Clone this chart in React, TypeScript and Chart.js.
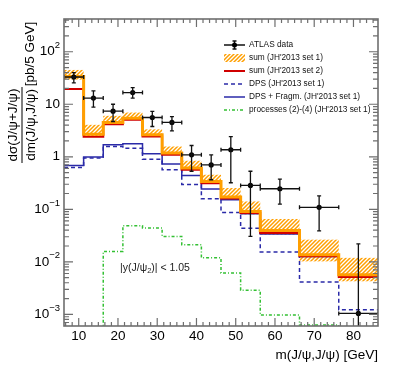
import React, { useEffect, useRef } from "react";
import { Chart, registerables } from "chart.js";

Chart.register(...registerables);

// ---------- data ----------
const binEdges = [6.25, 11.25, 16.25, 21.25, 26.25, 31.25, 36.25, 41.25, 46.25, 51.25, 56.25, 66.25, 76.25, 86.25];

const sumSet1 = [33.7, 2.68, 4.49, 5.44, 2.62, 1.18, 0.61, 0.339, 0.171, 0.091, 0.0397, 0.0137, 0.0057];
const sumSet1Up = [45, 4.06, 6.02, 6.95, 3.33, 1.57, 0.84, 0.455, 0.254, 0.141, 0.0654, 0.0264, 0.0119];
const sumSet1Down = [29.5, 2.45, 4.1, 5.0, 2.4, 1.08, 0.56, 0.31, 0.157, 0.08, 0.0329, 0.0102, 0.00426];
const sumSet2 = [19.6, 2.4, 4.15, 5.05, 2.42, 1.09, 0.565, 0.312, 0.16, 0.085, 0.0354, 0.0127, 0.00516];
const dps = [0.626, 0.945, 1.57, 1.46, 0.9, 0.566, 0.297, 0.159, 0.0873, 0.0437, 0.0154, 0.00415, 0.00123];
const dpsFragm = [0.684, 0.987, 1.69, 1.77, 1.14, 0.727, 0.44, 0.243, 0.152, 0.0825, 0.0339, 0.0126, 0.00523];
// zero bins are given a value below the axis range
const processes24 = [1e-5, 1e-5, 0.0158, 0.0488, 0.0441, 0.0305, 0.0212, 0.0119, 0.00615, 0.00287, 0.00097, 0.00063, 1e-5];

const dataX = [8.75, 13.75, 18.75, 23.75, 28.75, 33.75, 38.75, 43.75, 48.75, 53.75, 61.25, 71.25, 81.25];
const dataY = [33, 13.1, 7.4, 16.7, 5.6, 4.5, 1.09, 0.7, 1.36, 0.285, 0.246, 0.109, 0.00104];
const dataHigh = [40, 18, 10, 20.8, 7.3, 5.8, 1.64, 1.09, 2.43, 0.53, 0.377, 0.18, 0.0219];
const dataLow = [25.5, 8.8, 4.7, 13.1, 3.77, 3.1, 0.53, 0.365, 0.32, 0.0305, 0.126, 0.039, 1e-5];

const xMajorTicks = [10, 20, 30, 40, 50, 60, 70, 80];
const yMajorExps = [-3, -2, -1, 0, 1, 2];

const legendLabels = [
  "ATLAS data",
  "sum (JH'2013 set 1)",
  "sum (JH'2013 set 2)",
  "DPS (JH'2013 set 1)",
  "DPS + Fragm. (JH'2013 set 1)",
  "processes (2)-(4) (JH'2013 set 1)",
];

const X_MIN = 6.25;
const X_MAX = 86.25;
const Y_MIN = 6.1e-4;
const Y_MAX = 420;

// ---------- styles ----------
const FONT = "'Liberation Sans', Arial, Helvetica, sans-serif";
const ORANGE = "#ff9f00";
const RED = "#d00000";
const BLUE = "#2a2aa8";
const GREEN = "#33c033";
const AXIS = "#6e6e6e";

function histPoints(vals: number[]) {
  const pts = vals.map((v, i) => ({ x: binEdges[i], y: v }));
  pts.push({ x: binEdges[binEdges.length - 1], y: vals[vals.length - 1] });
  return pts;
}

function makeHatch(ctx: CanvasRenderingContext2D) {
  const c = document.createElement("canvas");
  c.width = 4;
  c.height = 4;
  const g = c.getContext("2d")!;
  g.strokeStyle = ORANGE;
  g.lineWidth = 1.5;
  g.beginPath();
  g.moveTo(-1, 5);
  g.lineTo(5, -1);
  g.moveTo(-1, 1);
  g.lineTo(1, -1);
  g.moveTo(3, 5);
  g.lineTo(5, 3);
  g.stroke();
  return ctx.createPattern(c, "repeat")!;
}

export default function App() {
  const ref = useRef<HTMLCanvasElement>(null);

  useEffect(() => {
    const canvas = ref.current!;
    const hatch = makeHatch(canvas.getContext("2d")!);

    const custom = {
      id: "custom",
      beforeDatasetsDraw(chart: any) {
        const { ctx, chartArea: a, scales } = chart;
        const x = scales.x, y = scales.y;
        ctx.save();
        ctx.beginPath();
        ctx.rect(a.left, a.top, a.right - a.left, a.bottom - a.top);
        ctx.clip();
        ctx.fillStyle = hatch;
        for (let i = 0; i < sumSet1.length; i++) {
          const x0 = x.getPixelForValue(binEdges[i]);
          const x1 = x.getPixelForValue(binEdges[i + 1]);
          const yt = y.getPixelForValue(sumSet1Up[i]);
          const yb = y.getPixelForValue(sumSet1Down[i]);
          ctx.fillRect(x0, yt, x1 - x0, yb - yt);
        }
        ctx.restore();
      },
      afterDatasetsDraw(chart: any) {
        const { ctx, chartArea: a, scales } = chart;
        const x = scales.x, y = scales.y;
        ctx.save();
        ctx.beginPath();
        ctx.rect(a.left, a.top, a.right - a.left, a.bottom - a.top);
        ctx.clip();
        ctx.strokeStyle = "#111";
        ctx.lineWidth = 1.3;
        const cap = 2;
        for (let i = 0; i < dataX.length; i++) {
          const px = x.getPixelForValue(dataX[i]);
          const py = y.getPixelForValue(dataY[i]);
          const xl = x.getPixelForValue(binEdges[i]);
          const xr = x.getPixelForValue(binEdges[i + 1]);
          const yh = y.getPixelForValue(dataHigh[i]);
          const yl = y.getPixelForValue(dataLow[i]);
          ctx.beginPath();
          ctx.moveTo(xl, py);
          ctx.lineTo(xr, py);
          ctx.moveTo(xl, py - cap);
          ctx.lineTo(xl, py + cap);
          ctx.moveTo(xr, py - cap);
          ctx.lineTo(xr, py + cap);
          ctx.moveTo(px, yh);
          ctx.lineTo(px, yl);
          ctx.moveTo(px - cap, yh);
          ctx.lineTo(px + cap, yh);
          ctx.moveTo(px - cap, yl);
          ctx.lineTo(px + cap, yl);
          ctx.stroke();
        }
        ctx.restore();
      },
      afterDraw(chart: any) {
        const { ctx, chartArea: a, scales } = chart;
        const x = scales.x, y = scales.y;
        ctx.save();
        // frame
        ctx.strokeStyle = AXIS;
        ctx.lineWidth = 1.6;
        ctx.strokeRect(a.left, a.top, a.right - a.left, a.bottom - a.top);
        // x ticks
        ctx.lineWidth = 1.2;
        ctx.beginPath();
        for (let k = -3; k <= 50; k++) {
          const v = 10 + (k * 10) / 6;
          if (v <= X_MIN || v >= X_MAX) continue;
          const px = x.getPixelForValue(v);
          const len = k % 6 === 0 ? 8 : 4;
          ctx.moveTo(px, a.bottom);
          ctx.lineTo(px, a.bottom - len);
          ctx.moveTo(px, a.top);
          ctx.lineTo(px, a.top + len);
        }
        // y ticks
        for (let e = -4; e <= 2; e++) {
          for (let m = 1; m <= 9; m++) {
            const v = m * Math.pow(10, e);
            if (v <= Y_MIN || v >= Y_MAX) continue;
            const py = y.getPixelForValue(v);
            const len = m === 1 ? 9 : 5;
            ctx.moveTo(a.left, py);
            ctx.lineTo(a.left + len, py);
            ctx.moveTo(a.right, py);
            ctx.lineTo(a.right - len, py);
          }
        }
        ctx.stroke();

        // x tick labels
        ctx.fillStyle = "#000";
        ctx.font = `13.5px ${FONT}`;
        ctx.textAlign = "center";
        ctx.textBaseline = "middle";
        for (const v of xMajorTicks) {
          ctx.fillText(String(v), x.getPixelForValue(v), 336);
        }
        // y tick labels
        const rightX = 60;
        for (const e of yMajorExps) {
          const py = y.getPixelForValue(Math.pow(10, e));
          ctx.textAlign = "right";
          if (e === 0) {
            ctx.font = `13.5px ${FONT}`;
            ctx.fillText("1", rightX, py);
          } else if (e === 1) {
            ctx.font = `13.5px ${FONT}`;
            ctx.fillText("10", rightX, py);
          } else {
            const sup = e < 0 ? "\u2212" + String(-e) : String(e);
            ctx.font = `9.5px ${FONT}`;
            const sw = ctx.measureText(sup).width;
            ctx.textAlign = "left";
            ctx.fillText(sup, rightX - sw, py - 6);
            ctx.font = `13.5px ${FONT}`;
            ctx.textAlign = "right";
            ctx.fillText("10", rightX - sw, py);
          }
        }

        // x title
        ctx.font = `13.5px ${FONT}`;
        ctx.textAlign = "right";
        ctx.textBaseline = "middle";
        ctx.fillText("m(J/\u03c8,J/\u03c8) [GeV]", a.right, 355);

        // y title (rotated)
        const rot = (txt: string, cx: number, cy: number) => {
          ctx.save();
          ctx.translate(cx, cy);
          ctx.rotate(-Math.PI / 2);
          ctx.textAlign = "center";
          ctx.textBaseline = "middle";
          ctx.fillText(txt, 0, 0);
          ctx.restore();
        };
        ctx.font = `13.5px ${FONT}`;
        rot("d\u03c3(J/\u03c8+J/\u03c8)", 13.5, 125);
        rot("dm(J/\u03c8,J/\u03c8)", 31, 125);
        rot("[pb/5 GeV]", 30.5, 54);
        ctx.strokeStyle = "#000";
        ctx.lineWidth = 1;
        ctx.beginPath();
        ctx.moveTo(22, 87);
        ctx.lineTo(22, 163);
        ctx.stroke();

        // legend
        const lx0 = 224, lx1 = 245, tx = 249;
        const rowY = (i: number) => 45 + i * 13;
        ctx.font = `8.3px ${FONT}`;
        ctx.textAlign = "left";
        ctx.textBaseline = "middle";
        legendLabels.forEach((t, i) => {
          ctx.fillStyle = "#111";
          ctx.fillText(t, tx, rowY(i));
        });
        // data symbol
        let ly = rowY(0);
        ctx.strokeStyle = "#111";
        ctx.lineWidth = 1.3;
        ctx.beginPath();
        ctx.moveTo(lx0, ly);
        ctx.lineTo(lx1, ly);
        ctx.moveTo((lx0 + lx1) / 2, ly - 4);
        ctx.lineTo((lx0 + lx1) / 2, ly + 4);
        ctx.moveTo((lx0 + lx1) / 2 - 2, ly - 4);
        ctx.lineTo((lx0 + lx1) / 2 + 2, ly - 4);
        ctx.moveTo((lx0 + lx1) / 2 - 2, ly + 4);
        ctx.lineTo((lx0 + lx1) / 2 + 2, ly + 4);
        ctx.stroke();
        ctx.fillStyle = "#000";
        ctx.beginPath();
        ctx.arc((lx0 + lx1) / 2, ly, 2.5, 0, Math.PI * 2);
        ctx.fill();
        // hatched box
        ly = rowY(1);
        ctx.fillStyle = hatch;
        ctx.fillRect(lx0, ly - 4, lx1 - lx0, 8);
        // lines
        const legLine = (i: number, color: string, w: number, dash: number[]) => {
          const yy = rowY(i);
          ctx.strokeStyle = color;
          ctx.lineWidth = w;
          ctx.setLineDash(dash);
          ctx.beginPath();
          ctx.moveTo(lx0, yy);
          ctx.lineTo(lx1, yy);
          ctx.stroke();
          ctx.setLineDash([]);
        };
        legLine(2, RED, 2, []);
        legLine(3, BLUE, 1.5, [4, 3]);
        legLine(4, BLUE, 1.5, []);
        legLine(5, GREEN, 1.5, [3, 2, 1, 2]);

        // annotation
        ctx.fillStyle = "#222";
        ctx.textAlign = "left";
        ctx.textBaseline = "middle";
        ctx.font = `10.5px ${FONT}`;
        let ax = 120;
        const ay = 268;
        const p1 = "|y(J/\u03c8";
        ctx.fillText(p1, ax, ay);
        ax += ctx.measureText(p1).width;
        ctx.font = `7.5px ${FONT}`;
        ctx.fillText("2", ax, ay + 3);
        ax += ctx.measureText("2").width;
        ctx.font = `10.5px ${FONT}`;
        ctx.fillText(")| < 1.05", ax, ay);

        ctx.restore();
      },
    };

    const chart = new Chart(canvas, {
      type: "line",
      data: {
        datasets: [
          {
            label: "ATLAS data",
            data: dataX.map((v, i) => ({ x: v, y: dataY[i] })),
            showLine: false,
            pointRadius: 2.6,
            pointBackgroundColor: "#000",
            pointBorderWidth: 0,
          },
          {
            label: "processes",
            data: histPoints(processes24),
            stepped: "before",
            borderColor: GREEN,
            borderWidth: 1.5,
            borderDash: [3, 2, 1, 2],
            pointRadius: 0,
            fill: false,
          },
          {
            label: "sum1",
            data: histPoints(sumSet1),
            stepped: "before",
            borderColor: ORANGE,
            borderWidth: 3,
            pointRadius: 0,
            fill: false,
          },
          {
            label: "sum2",
            data: histPoints(sumSet2),
            stepped: "before",
            borderColor: RED,
            borderWidth: 2,
            pointRadius: 0,
            fill: false,
          },
          {
            label: "dpsFragm",
            data: histPoints(dpsFragm),
            stepped: "before",
            borderColor: BLUE,
            borderWidth: 1.5,
            pointRadius: 0,
            fill: false,
          },
          {
            label: "dps",
            data: histPoints(dps),
            stepped: "before",
            borderColor: BLUE,
            borderWidth: 1.5,
            borderDash: [4, 3],
            pointRadius: 0,
            fill: false,
          },
        ],
      },
      options: {
        animation: false,
        responsive: false,
        devicePixelRatio: 1,
        events: [],
        layout: { padding: { left: 0, right: 21, top: 19, bottom: 0 } },
        plugins: { legend: { display: false }, tooltip: { enabled: false } },
        scales: {
          x: {
            type: "linear",
            min: X_MIN,
            max: X_MAX,
            grid: { display: false },
            border: { display: false },
            ticks: { display: false },
            afterFit: (s: any) => {
              s.height = 62;
            },
          },
          y: {
            type: "logarithmic",
            min: Y_MIN,
            max: Y_MAX,
            grid: { display: false },
            border: { display: false },
            ticks: { display: false },
            afterFit: (s: any) => {
              s.width = 64;
            },
          },
        },
      },
      plugins: [custom],
    } as any);

    return () => chart.destroy();
  }, []);

  return (
    <div style={{ position: "fixed", left: 0, top: 0, width: 399, height: 388, background: "#fff" }}>
      <canvas ref={ref} width={399} height={388} style={{ width: 399, height: 388, display: "block" }} />
    </div>
  );
}
